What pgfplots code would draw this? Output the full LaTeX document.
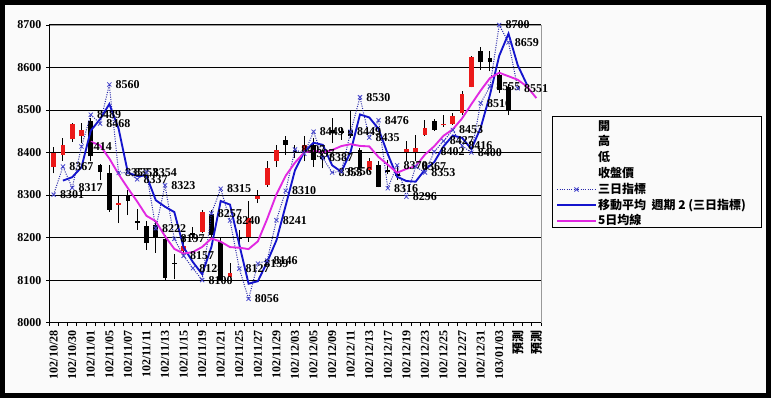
\documentclass[border=0pt]{standalone}
\usepackage{pgfplots}
\pgfplotsset{compat=1.18}
\usepackage{pgfplotstable}
\usepackage{fontspec}
\setmainfont{Liberation Serif}
\newfontfamily\cjk{Noto Sans CJK TC}
\definecolor{bg}{RGB}{250,250,250}
\definecolor{upred}{RGB}{235,25,25}
\definecolor{dotblue}{RGB}{40,40,170}
\definecolor{markblue}{RGB}{70,70,205}
\definecolor{mablue}{RGB}{20,20,205}
\definecolor{mag}{RGB}{225,40,225}

\pgfplotstableread{
x O H L C
0 8366 8414 8351 8400
1 8395 8434 8381 8418
2 8431 8470 8425 8467
3 8439 8469 8422 8452
7 8277 8298 8234 8282
14 8168 8203 8155 8180
16 8214 8265 8210 8261
19 8108 8140 8106 8116
21 8202 8285 8190 8245
22 8291 8312 8281 8297
23 8324 8379 8320 8363
24 8379 8418 8367 8405
27 8398 8438 8379 8418
34 8359 8387 8355 8379
38 8402 8426 8379 8409
39 8402 8442 8379 8410
40 8442 8477 8440 8457
42 8464 8489 8461 8468
43 8468 8493 8465 8485
44 8493 8544 8489 8538
45 8555 8628 8553 8624
}\redtab

\pgfplotstableread{
x O H L C
4 8475 8481 8379 8391
5 8371 8373 8336 8355
6 8353 8371 8261 8265
8 8300 8312 8253 8287
9 8238 8267 8218 8235
10 8228 8238 8172 8187
11 8229 8240 8164 8201
12 8196 8205 8100 8106
13 8140 8161 8102 8138
15 8210 8225 8195 8205
17 8255 8265 8200 8206
18 8190 8202 8098 8100
20 8200 8218 8180 8198
25 8430 8438 8395 8418
26 8405 8418 8387 8398
28 8418 8434 8367 8383
29 8392 8406 8363 8385
30 8452 8481 8422 8445
31 8450 8461 8430 8445
32 8452 8500 8435 8440
33 8406 8410 8359 8363
35 8371 8379 8318 8320
36 8359 8383 8349 8355
37 8350 8365 8335 8345
41 8475 8479 8451 8453
46 8638 8648 8595 8614
47 8622 8638 8591 8614
48 8583 8595 8540 8548
49 8555 8560 8488 8497
}\blacktab

\pgfplotstableread{
x y
0 8301
1 8367
2 8317
3 8414
4 8489
5 8468
6 8560
7 8352
8 8353
9 8337
10 8354
11 8222
12 8323
13 8197
14 8157
15 8128
16 8100
17 8257
18 8315
19 8240
20 8127
21 8056
22 8139
23 8146
24 8241
25 8310
26 8407
27 8397
28 8449
29 8387
30 8353
31 8356
32 8449
33 8530
34 8435
35 8476
36 8316
37 8370
38 8296
39 8367
40 8353
41 8402
42 8427
43 8453
44 8416
45 8400
46 8516
47 8555
48 8700
49 8659
50 8551
}\threeday

\pgfplotstableread{
x y
1 8334
2 8342
3 8365.5
4 8451.5
5 8478.5
6 8514
7 8456
8 8352.5
9 8345
10 8345.5
11 8288
12 8272.5
13 8260
14 8177
15 8142.5
16 8114
17 8178.5
18 8286
19 8277.5
20 8183.5
21 8091.5
22 8097.5
23 8142.5
24 8193.5
25 8275.5
26 8358.5
27 8402
28 8423
29 8418
30 8370
31 8354.5
32 8402.5
33 8489.5
34 8482.5
35 8455.5
36 8396
37 8343
38 8333
39 8331.5
40 8360
41 8377.5
42 8414.5
43 8440
44 8434.5
45 8408
46 8458
47 8535.5
48 8627.5
49 8679.5
50 8605
51 8559
}\movavg

\pgfplotstableread{
x y
4 8425.6
5 8416.6
6 8386
7 8349
8 8316
9 8284.8
10 8251.2
11 8238.4
12 8203.2
13 8173.4
14 8162.4
15 8166
16 8178
17 8198
18 8190.4
19 8177.6
20 8176.2
21 8173
22 8191.2
23 8243.8
24 8301.6
25 8345.6
26 8376.2
27 8400.4
28 8404.4
29 8400.4
30 8405.8
31 8415.2
32 8419.6
33 8415.6
34 8414.4
35 8389.4
36 8371.4
37 8352.4
38 8361.6
39 8367.8
40 8395.2
41 8414.8
42 8439.4
43 8454.6
44 8480.2
45 8513.6
46 8545.8
47 8575
48 8587.6
49 8579.4
50 8571
51 8555
52 8528
}\fiveday

\begin{document}
\begin{tikzpicture}[x=1pt,y=1pt]
\useasboundingbox (0,0) rectangle (578.25,298.5);
\fill[black] (0,0) rectangle (578.25,298.5);
\fill[bg] (3.75,3.75) rectangle (574.5,294.75);
\begin{axis}[
  at={(36.75pt,56.5pt)}, anchor=south west,
  scale only axis, width=369pt, height=223.3pt,
  xmin=-0.5, xmax=52.5, ymin=8000, ymax=8700,
  clip=false,
  axis line style={draw=gray!80},
  xtick={0,2,...,52},
  xticklabels={102/10/28,102/10/30,102/11/01,102/11/05,102/11/07,102/11/11,102/11/13,102/11/15,102/11/19,102/11/21,102/11/25,102/11/27,102/11/29,102/12/03,102/12/05,102/12/09,102/12/11,102/12/13,102/12/17,102/12/19,102/12/23,102/12/25,102/12/27,102/12/31,103/01/03,{\cjk\bfseries 預測},{\cjk\bfseries 預測}},
  minor xtick={-0.5,0.5,...,52.5},
  major x tick style={draw=none},
  minor x tick style={black, line width=0.6pt},
  ytick={8000,8100,...,8700},
  y tick style={black, line width=0.6pt},
  tick align=outside,
  major tick length=2.25pt, minor tick length=2.6pt,
  xtick pos=bottom, ytick pos=left,
  ymajorgrids, major grid style={black, line width=0.7pt},
  /pgf/number format/assume math mode=true,
  /pgf/number format/1000 sep={},
  yticklabel style={font=\bfseries\fontsize{9}{9}\selectfont},
  xticklabel style={rotate=90, anchor=east, font=\bfseries\fontsize{9}{9}\selectfont},
  legend image code/.code={\draw[mark repeat=2,mark phase=2,#1] plot coordinates {(0pt,0pt) (14.5pt,0pt) (29pt,0pt)};},
  legend cell align=left,
  legend style={at={(axis description cs:1.0305,0.685)}, anchor=north west, draw=none, fill=none,
    inner sep=0pt, row sep=0.85pt,
    font=\cjk\bfseries\fontsize{9}{9}\selectfont,
    nodes={inner sep=1pt, text height=7.3pt, text depth=1.7pt}},
]
% wicks
\addplot[forget plot, draw=none, mark=none, error bars/.cd, y dir=plus, y explicit, error mark=none,
  error bar style={draw=black, line width=0.75pt}]
  table[x=x, y=L, y error plus expr=\thisrow{H}-\thisrow{L}] {\redtab};
\addplot[forget plot, draw=none, mark=none, error bars/.cd, y dir=plus, y explicit, error mark=none,
  error bar style={draw=black, line width=0.75pt}]
  table[x=x, y=L, y error plus expr=\thisrow{H}-\thisrow{L}] {\blacktab};
% bodies
\addplot[forget plot, draw=none, mark=none, error bars/.cd, y dir=plus, y explicit, error mark=none,
  error bar style={draw=upred, line width=3.6pt}]
  table[x=x, y=O, y error plus expr=\thisrow{C}-\thisrow{O}] {\redtab};
\addplot[forget plot, draw=none, mark=none, error bars/.cd, y dir=plus, y explicit, error mark=none,
  error bar style={draw=black, line width=3.6pt}]
  table[x=x, y=C, y error plus expr=\thisrow{O}-\thisrow{C}] {\blacktab};
% three-day indicator
\addplot[forget plot, dotblue, densely dotted, line width=0.75pt, mark=x, mark size=2.2pt,
  mark options={solid, markblue, line width=0.6pt},
  nodes near coords, point meta=explicit symbolic,
  every node near coord/.append style={anchor=west, inner sep=0pt, xshift=4.5pt, black,
    font=\bfseries\fontsize{9}{9}\selectfont}]
  table[x=x, y=y, meta=y] {\threeday};
% moving average
\addplot[forget plot, mablue, line width=1.4pt] table[x=x, y=y] {\movavg};
% five-day
\addplot[forget plot, mag, line width=1.4pt] table[x=x, y=y] {\fiveday};

\draw[black] (rel axis cs:0,1) -- (rel axis cs:0,0) -- (rel axis cs:1,0);
\draw[black, line width=0.75pt] (axis description cs:1.0224,0.691) rectangle (axis description cs:1.4472,0.318);

\addlegendimage{empty legend}\addlegendentry{開}
\addlegendimage{empty legend}\addlegendentry{高}
\addlegendimage{empty legend}\addlegendentry{低}
\addlegendimage{empty legend}\addlegendentry{收盤價}
\addlegendimage{dotblue, densely dotted, line width=0.75pt, mark=x, mark size=2.2pt, mark options={solid, markblue, line width=0.6pt}}\addlegendentry{三日指標}
\addlegendimage{mablue, line width=1.4pt}\addlegendentry{移動平均\ \ 週期 2 (三日指標)}
\addlegendimage{mag, line width=1.4pt}\addlegendentry{5日均線}
\end{axis}
\end{tikzpicture}
\end{document}
